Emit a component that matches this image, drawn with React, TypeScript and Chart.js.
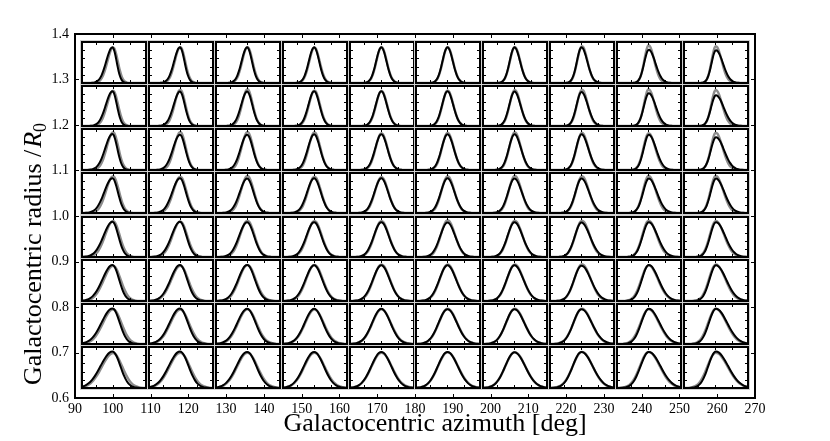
import React, { useEffect, useRef } from "react";
import { Chart, registerables } from "chart.js";

Chart.register(...registerables);

// ---------- outer axes ----------
const azimuthTicks = [90, 100, 110, 120, 130, 140, 150, 160, 170, 180, 190, 200, 210, 220, 230, 240, 250, 260, 270];
const radiusTicks = [0.6, 0.7, 0.8, 0.9, 1.0, 1.1, 1.2, 1.3, 1.4];

// ---------- panel grid (centre of each small panel, in outer-axis units) ----------
const columnAzimuths = [100.4, 118.1, 135.8, 153.5, 171.2, 188.8, 206.5, 224.2, 241.9, 259.6];
const rowRadii = [1.337, 1.242, 1.146, 1.05, 0.954, 0.858, 0.763, 0.667];
const PANEL_HALF_W = 8.44; // deg
const PANEL_HALF_H = 0.0444; // R0

// ---------- panel inner axes ----------
const panelXMin = -1.8;
const panelXMax = 1.9;
const panelXTicks = [-1, 0, 1];
const panelYTicks = [0.2, 0.4, 0.6, 0.8];

// normalized distribution profile (offset in widths -> relative height)
const profileOffsets = [0, 0.25, 0.5, 0.75, 1, 1.25, 1.5, 1.75, 2, 2.25, 2.5, 2.75, 3, 3.25, 3.5, 3.75, 4];
const profileValues = [1.0, 0.969, 0.882, 0.755, 0.607, 0.458, 0.325, 0.216, 0.135, 0.08, 0.044, 0.023, 0.011, 0.005, 0.002, 0.001, 0.0];

// width of distribution per row (top -> bottom)
const rowWidth = [0.3, 0.32, 0.35, 0.39, 0.43, 0.48, 0.53, 0.58];
// asymmetry per column, black curves (negative = longer tail to the left)
const colSkew = [-0.2, -0.13, -0.07, -0.03, 0, 0.03, 0.07, 0.12, 0.17, 0.22];
// asymmetry per column, gray curves
const colSkewGray = [-0.1, -0.06, -0.02, 0, 0.02, 0.04, 0.05, 0.07, 0.12, 0.16];
// peak location per column
const colMode = [-0.04, -0.01, 0, 0, 0.01, 0.02, 0.02, 0.02, 0.04, 0.05];
const colModeGray = [0.0, 0.01, 0.02, 0.02, 0.02, 0.03, 0.04, 0.05, 0.03, 0.04];

// peak heights, black (model) curves
const blackPeak = [
  [0.87, 0.87, 0.87, 0.87, 0.87, 0.87, 0.87, 0.87, 0.81, 0.8],
  [0.87, 0.86, 0.86, 0.87, 0.87, 0.87, 0.86, 0.85, 0.82, 0.77],
  [0.88, 0.86, 0.86, 0.87, 0.87, 0.87, 0.87, 0.87, 0.86, 0.8],
  [0.87, 0.87, 0.86, 0.87, 0.87, 0.87, 0.86, 0.86, 0.86, 0.86],
  [0.88, 0.88, 0.87, 0.87, 0.87, 0.86, 0.87, 0.86, 0.87, 0.87],
  [0.88, 0.88, 0.88, 0.87, 0.87, 0.87, 0.87, 0.86, 0.88, 0.87],
  [0.89, 0.89, 0.88, 0.88, 0.88, 0.87, 0.87, 0.87, 0.88, 0.88],
  [0.89, 0.89, 0.88, 0.88, 0.88, 0.88, 0.87, 0.88, 0.88, 0.89],
];
// peak heights, gray curves
const grayPeak = [
  [0.87, 0.88, 0.88, 0.87, 0.88, 0.88, 0.88, 0.9, 0.92, 0.9],
  [0.88, 0.91, 0.92, 0.89, 0.88, 0.89, 0.9, 0.91, 0.92, 0.9],
  [0.92, 0.93, 0.93, 0.92, 0.9, 0.91, 0.92, 0.91, 0.9, 0.91],
  [0.92, 0.91, 0.93, 0.91, 0.9, 0.92, 0.93, 0.92, 0.93, 0.93],
  [0.9, 0.89, 0.91, 0.9, 0.9, 0.92, 0.91, 0.91, 0.91, 0.9],
  [0.86, 0.86, 0.88, 0.88, 0.89, 0.89, 0.89, 0.9, 0.87, 0.89],
  [0.87, 0.86, 0.87, 0.86, 0.87, 0.88, 0.88, 0.88, 0.87, 0.88],
  [0.85, 0.86, 0.86, 0.86, 0.86, 0.87, 0.87, 0.88, 0.88, 0.86],
];

const NROWS = rowRadii.length;
const NCOLS = columnAzimuths.length;
const REF_PEAK = 0.87;

function buildCurve(mode: number, width: number, skew: number, peak: number) {
  const sL = width * (1 - skew);
  const sR = width * (1 + skew);
  const pts: { x: number; y: number }[] = [];
  for (let k = profileOffsets.length - 1; k >= 1; k--) {
    pts.push({ x: mode - profileOffsets[k] * sL, y: peak * profileValues[k] });
  }
  for (let k = 0; k < profileOffsets.length; k++) {
    pts.push({ x: mode + profileOffsets[k] * sR, y: peak * profileValues[k] });
  }
  if (pts[0].x > panelXMin) pts.unshift({ x: panelXMin, y: 0 });
  if (pts[pts.length - 1].x < panelXMax) pts.push({ x: panelXMax, y: 0 });
  return pts;
}

const SERIF = '"Liberation Serif", "Times New Roman", serif';

const outerFramePlugin = {
  id: "outerFrame",
  afterDraw(chart: any) {
    const { ctx, chartArea: a, scales } = chart;
    ctx.save();
    ctx.strokeStyle = "#000";
    ctx.lineWidth = 2;
    ctx.strokeRect(a.left, a.top, a.right - a.left, a.bottom - a.top);
    ctx.lineWidth = 1;
    const tl = 4;
    ctx.beginPath();
    for (const v of azimuthTicks) {
      const px = Math.round(scales.x.getPixelForValue(v)) + 0.5;
      ctx.moveTo(px, a.bottom);
      ctx.lineTo(px, a.bottom - tl);
      ctx.moveTo(px, a.top);
      ctx.lineTo(px, a.top + tl);
    }
    for (const v of radiusTicks) {
      const py = Math.round(scales.y.getPixelForValue(v)) + 0.5;
      ctx.moveTo(a.left, py);
      ctx.lineTo(a.left + tl, py);
      ctx.moveTo(a.right, py);
      ctx.lineTo(a.right - tl, py);
    }
    ctx.stroke();

    // axis titles
    ctx.fillStyle = "#000";
    ctx.font = `26px ${SERIF}`;
    ctx.textAlign = "center";
    ctx.textBaseline = "alphabetic";
    const cx = (a.left + a.right) / 2 + 20;
    ctx.fillText("Galactocentric azimuth [deg]", cx, 431);

    // y title (rotated)
    const cy = (a.top + a.bottom) / 2 + 38;
    ctx.translate(41, cy);
    ctx.rotate(-Math.PI / 2);
    ctx.textAlign = "left";
    const t1 = "Galactocentric radius /";
    ctx.font = `26px ${SERIF}`;
    const w1 = ctx.measureText(t1).width;
    ctx.font = `italic 26px ${SERIF}`;
    const w2 = ctx.measureText("R").width;
    ctx.font = `18px ${SERIF}`;
    const w3 = ctx.measureText("0").width;
    const gap = 2;
    const total = w1 + gap + w2 + w3;
    let x = -total / 2;
    ctx.font = `26px ${SERIF}`;
    ctx.fillText(t1, x, 0);
    x += w1 + gap;
    ctx.font = `italic 26px ${SERIF}`;
    ctx.fillText("R", x, 0);
    x += w2;
    ctx.font = `18px ${SERIF}`;
    ctx.fillText("0", x, 5);
    ctx.restore();
  },
};

const panelFramePlugin = {
  id: "panelFrame",
  afterDatasetsDraw(chart: any) {
    const { ctx, chartArea: a, scales } = chart;
    const w = a.right - a.left;
    const h = a.bottom - a.top;
    ctx.save();
    ctx.strokeStyle = "#cfcfcf";
    ctx.lineWidth = 1;
    ctx.strokeRect(a.left - 1.5, a.top - 1.5, w + 3, h + 3);
    ctx.strokeStyle = "#000";
    ctx.lineWidth = 2;
    ctx.strokeRect(a.left, a.top, w, h);
    ctx.lineWidth = 1;
    const tl = 3;
    ctx.beginPath();
    for (const v of panelXTicks) {
      const px = Math.round(scales.x.getPixelForValue(v)) + 0.5;
      ctx.moveTo(px, a.bottom);
      ctx.lineTo(px, a.bottom - tl);
      ctx.moveTo(px, a.top);
      ctx.lineTo(px, a.top + tl);
    }
    for (const v of panelYTicks) {
      const py = Math.round(scales.y.getPixelForValue(v)) + 0.5;
      ctx.moveTo(a.left, py);
      ctx.lineTo(a.left + tl, py);
      ctx.moveTo(a.right, py);
      ctx.lineTo(a.right - tl, py);
    }
    ctx.stroke();
    ctx.restore();
  },
};

export default function App() {
  const mainRef = useRef<HTMLCanvasElement | null>(null);
  const panelRefs = useRef<(HTMLCanvasElement | null)[]>([]);

  useEffect(() => {
    const charts: Chart[] = [];
    const mainCanvas = mainRef.current!;
    mainCanvas.width = 830;
    mainCanvas.height = 441;
    const main = new Chart(mainCanvas, {
      type: "scatter",
      data: { datasets: [] },
      options: {
        animation: false,
        responsive: false,
        events: [],
        layout: { padding: { left: 35, right: 75, top: 34, bottom: 23 } },
        plugins: { legend: { display: false }, tooltip: { enabled: false } },
        scales: {
          x: {
            type: "linear",
            min: 90,
            max: 270,
            grid: { display: false, drawTicks: false },
            border: { display: false },
            afterBuildTicks: (s: any) => {
              s.ticks = azimuthTicks.map((v) => ({ value: v }));
            },
            afterFit: (s: any) => {
              s.height = 20;
            },
            ticks: {
              padding: 3,
              color: "#000",
              font: { family: SERIF, size: 14 },
              maxRotation: 0,
              autoSkip: false,
              callback: (v: any) => String(v),
            },
          },
          y: {
            type: "linear",
            min: 0.6,
            max: 1.4,
            grid: { display: false, drawTicks: false },
            border: { display: false },
            afterBuildTicks: (s: any) => {
              s.ticks = radiusTicks.map((v) => ({ value: v }));
            },
            afterFit: (s: any) => {
              s.width = 40;
            },
            ticks: {
              padding: 6,
              color: "#000",
              font: { family: SERIF, size: 14 },
              autoSkip: false,
              callback: (v: any) => Number(v).toFixed(1),
            },
          },
        },
      } as any,
      plugins: [outerFramePlugin],
    });
    charts.push(main);

    const xs = main.scales.x;
    const ys = main.scales.y;
    const PAD = 3;
    for (let r = 0; r < NROWS; r++) {
      for (let c = 0; c < NCOLS; c++) {
        const cv = panelRefs.current[r * NCOLS + c];
        if (!cv) continue;
        const left = xs.getPixelForValue(columnAzimuths[c] - PANEL_HALF_W);
        const right = xs.getPixelForValue(columnAzimuths[c] + PANEL_HALF_W);
        const top = ys.getPixelForValue(rowRadii[r] + PANEL_HALF_H);
        const bottom = ys.getPixelForValue(rowRadii[r] - PANEL_HALF_H);
        const L = Math.round(left) - PAD;
        const T = Math.round(top) - PAD;
        const W = Math.round(right) - Math.round(left) + 2 * PAD;
        const H = Math.round(bottom) - Math.round(top) + 2 * PAD;
        cv.style.position = "absolute";
        cv.style.left = L + "px";
        cv.style.top = T + "px";
        cv.style.width = W + "px";
        cv.style.height = H + "px";
        cv.width = W;
        cv.height = H;

        const bp = blackPeak[r][c];
        const gp = grayPeak[r][c];
        const bw = (rowWidth[r] * REF_PEAK) / bp;
        const gw = (bw * bp) / gp;
        const black = buildCurve(colMode[c], bw, colSkew[c], bp);
        const gray = buildCurve(colModeGray[c], gw, colSkewGray[c], gp);

        const ch = new Chart(cv, {
          type: "line",
          data: {
            datasets: [
              {
                data: black,
                borderColor: "#000",
                borderWidth: 2,
                pointRadius: 0,
                cubicInterpolationMode: "monotone",
                fill: false,
              },
              {
                data: gray,
                borderColor: "#8c8c8c",
                borderWidth: 2.4,
                pointRadius: 0,
                cubicInterpolationMode: "monotone",
                fill: false,
              },
            ],
          },
          options: {
            animation: false,
            responsive: false,
            events: [],
            layout: { padding: PAD },
            plugins: { legend: { display: false }, tooltip: { enabled: false } },
            scales: {
              x: { type: "linear", min: panelXMin, max: panelXMax, display: false },
              y: { type: "linear", min: 0, max: 1, display: false },
            },
          } as any,
          plugins: [panelFramePlugin],
        });
        charts.push(ch);
      }
    }

    return () => {
      charts.forEach((c) => c.destroy());
    };
  }, []);

  const cells = [];
  for (let i = 0; i < NROWS * NCOLS; i++) {
    cells.push(
      <canvas
        key={i}
        ref={(el) => {
          panelRefs.current[i] = el;
        }}
      />
    );
  }

  return (
    <div style={{ position: "absolute", left: 0, top: 0, width: 830, height: 441, background: "#fff" }}>
      <canvas ref={mainRef} style={{ position: "absolute", left: 0, top: 0, width: 830, height: 441 }} />
      {cells}
    </div>
  );
}
